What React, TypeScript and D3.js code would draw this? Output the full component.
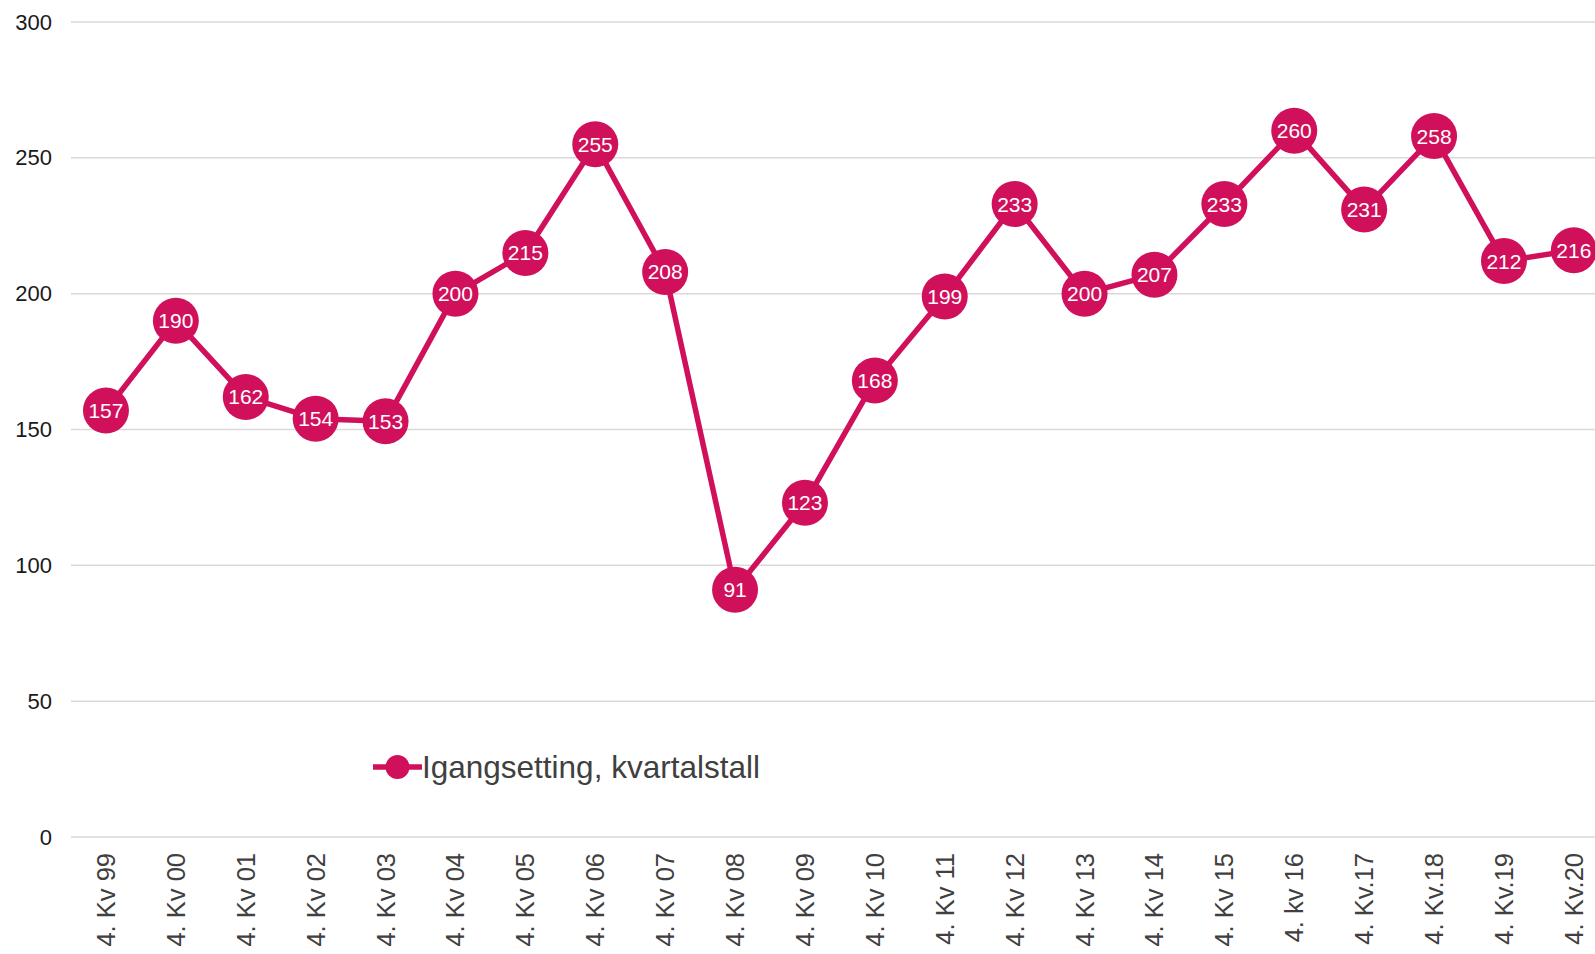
import React, { useRef, useEffect } from "react";
import * as d3 from "d3";

const categories = [
  "4. Kv 99", "4. Kv 00", "4. Kv 01", "4. Kv 02", "4. Kv 03", "4. Kv 04",
  "4. Kv 05", "4. Kv 06", "4. Kv 07", "4. Kv 08", "4. Kv 09", "4. Kv 10",
  "4. Kv 11", "4. Kv 12", "4. Kv 13", "4. Kv 14", "4. Kv 15", "4. kv 16",
  "4. Kv.17", "4. Kv.18", "4. Kv.19", "4. Kv.20",
];
const values = [157, 190, 162, 154, 153, 200, 215, 255, 208, 91, 123, 168, 199, 233, 200, 207, 233, 260, 231, 258, 212, 216];
const yTicks = [0, 50, 100, 150, 200, 250, 300];
const seriesName = "Igangsetting, kvartalstall";

const COLOR = "#d1105b";
const FONT = "'Liberation Sans', Arial, sans-serif";

const App = () => {
  const svgRef = useRef<SVGSVGElement>(null);

  useEffect(() => {
    const width = 1595;
    const height = 954;
    const svg = d3.select(svgRef.current);
    svg.selectAll("*").remove();
    svg.attr("width", width).attr("height", height);

    const x = d3.scaleBand<string>()
      .domain(categories)
      .range([71, 71 + categories.length * 69.9])
      .padding(0);
    const cx = (c: string) => (x(c) as number) + x.bandwidth() / 2;

    const y = d3.scaleLinear().domain([0, 300]).range([837, 22]);

    // gridlines + y labels
    const grid = svg.append("g");
    grid.selectAll("line")
      .data(yTicks)
      .enter().append("line")
      .attr("x1", 71)
      .attr("x2", width)
      .attr("y1", d => y(d))
      .attr("y2", d => y(d))
      .attr("stroke", "#d9d9d9")
      .attr("stroke-width", 1.5);

    grid.selectAll("text")
      .data(yTicks)
      .enter().append("text")
      .attr("x", 52)
      .attr("y", d => y(d))
      .attr("text-anchor", "end")
      .attr("dominant-baseline", "central")
      .style("font-family", FONT)
      .style("font-size", "22px")
      .attr("fill", "#1a1a1a")
      .text(d => d);

    // x labels
    svg.append("g").selectAll("text")
      .data(categories)
      .enter().append("text")
      .attr("transform", d => `translate(${cx(d)}, 853) rotate(-90)`)
      .attr("text-anchor", "end")
      .attr("dominant-baseline", "central")
      .style("font-family", FONT)
      .style("font-size", "25.5px")
      .attr("fill", "#404040")
      .text(d => d);

    const data = categories.map((c, i) => ({ c, v: values[i] }));

    const line = d3.line<{ c: string; v: number }>()
      .x(d => cx(d.c))
      .y(d => y(d.v));

    svg.append("path")
      .datum(data)
      .attr("fill", "none")
      .attr("stroke", COLOR)
      .attr("stroke-width", 5.5)
      .attr("stroke-linejoin", "round")
      .attr("d", line);

    const pts = svg.append("g").selectAll("g")
      .data(data)
      .enter().append("g")
      .attr("transform", d => `translate(${cx(d.c)}, ${y(d.v)})`);

    pts.append("circle")
      .attr("r", 23)
      .attr("fill", COLOR);

    pts.append("text")
      .attr("text-anchor", "middle")
      .attr("dominant-baseline", "central")
      .style("font-family", FONT)
      .style("font-size", "21px")
      .attr("fill", "#ffffff")
      .text(d => d.v);

    // legend
    const legend = svg.append("g").attr("transform", "translate(373, 767)");
    legend.append("line")
      .attr("x1", 0).attr("x2", 49)
      .attr("y1", 0).attr("y2", 0)
      .attr("stroke", COLOR)
      .attr("stroke-width", 5.5);
    legend.append("circle")
      .attr("cx", 24.5)
      .attr("r", 12)
      .attr("fill", COLOR);
    legend.append("text")
      .attr("x", 49)
      .attr("y", 0)
      .attr("dominant-baseline", "central")
      .style("font-family", FONT)
      .style("font-size", "31.5px")
      .attr("fill", "#404040")
      .text(seriesName);
  }, []);

  return (
    <div style={{ position: "absolute", left: 0, top: 0, width: 1595, height: 954, overflow: "hidden", background: "#fff" }}>
      <svg ref={svgRef} style={{ display: "block" }}></svg>
    </div>
  );
};

export default App;
